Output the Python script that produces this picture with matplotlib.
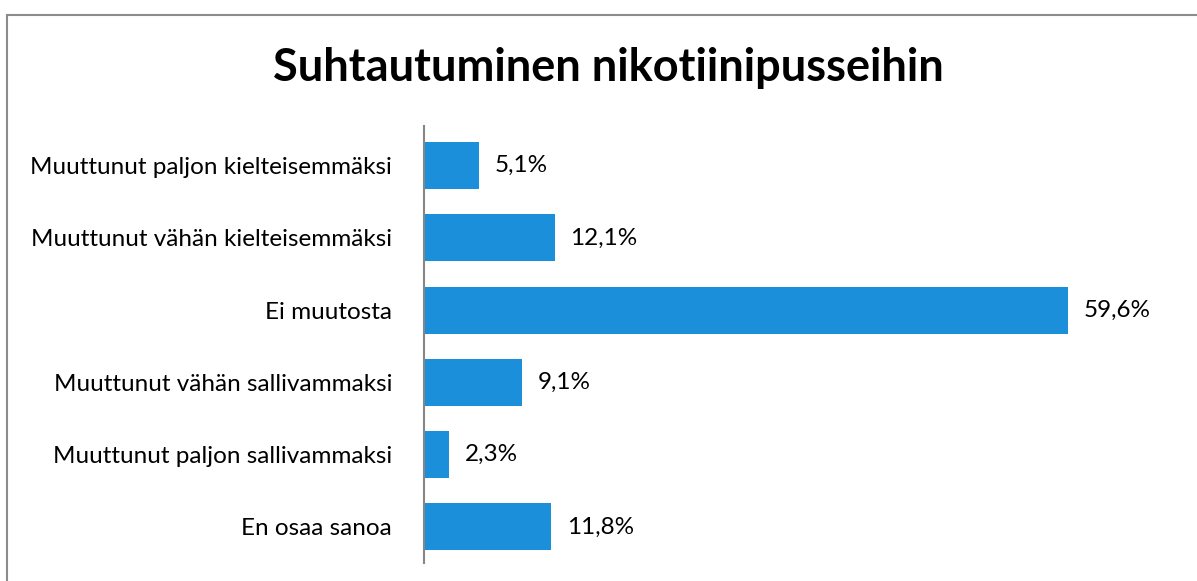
import matplotlib.pyplot as plt
from matplotlib.lines import Line2D

# data
categories = ['Muuttunut paljon kielteisemmäksi',
              'Muuttunut vähän kielteisemmäksi',
              'Ei muutosta',
              'Muuttunut vähän sallivammaksi',
              'Muuttunut paljon sallivammaksi',
              'En osaa sanoa']
values = [5.1, 12.1, 59.6, 9.1, 2.3, 11.8]
title = 'Suhtautuminen nikotiinipusseihin'

plt.rcParams['font.family'] = ['Lato', 'DejaVu Sans']

fig = plt.figure(figsize=(11.97, 5.81), dpi=100)
ax = fig.add_axes([424 / 1197, 1 - 563 / 581, 756 / 1197, 437 / 581])

pos = list(range(len(categories)))
ax.barh(pos, values, height=0.65, color='#1B8FD9')

for p, v in zip(pos, values):
    ax.text(v + 1.45, p, f'{v:.1f}%'.replace('.', ','),
            va='center', ha='left', fontsize=17.5, color='#000000')

ax.set_xlim(0, 70)
ax.set_ylim(5.5, -0.55)
ax.set_yticks(pos)
ax.set_yticklabels(categories, fontsize=17.5)
ax.tick_params(axis='y', length=0, pad=23)
ax.set_xticks([])

for s in ['top', 'right', 'bottom']:
    ax.spines[s].set_visible(False)
ax.spines['left'].set_color('#868686')
ax.spines['left'].set_linewidth(1.5)

fig.text(608 / 1197, 1 - 68 / 581, title, ha='center', va='center',
         fontsize=32.5, fontweight='bold')

# chart frame (left and top edges)
fig.add_artist(Line2D([7 / 1197, 7 / 1197], [0, 1 - 15 / 581],
                      transform=fig.transFigure, color='#8c8c8c', lw=1.5))
fig.add_artist(Line2D([7 / 1197, 1], [1 - 15 / 581, 1 - 15 / 581],
                      transform=fig.transFigure, color='#8c8c8c', lw=1.5))

fig.savefig('out.png', dpi=100, facecolor='white')
